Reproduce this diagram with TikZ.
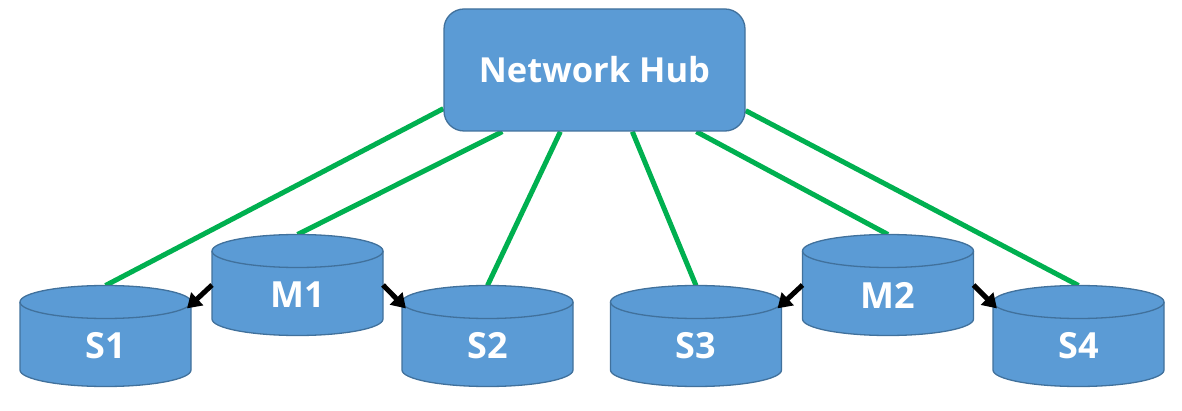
\documentclass[tikz,border=0pt]{standalone}
\usepackage{fontspec}
\setmainfont{Open Sans}
\usetikzlibrary{calc,arrows.meta,backgrounds}
\definecolor{boxfill}{HTML}{5B9BD5}
\definecolor{boxline}{HTML}{41719C}
\definecolor{link}{HTML}{00B050}
\tikzset{
  hubbox/.style={draw=boxline, line width=1.3pt, fill=boxfill, rounded corners=20pt,
    minimum width=301pt, minimum height=122pt, text=white, font=\fontsize{34.5}{38}\selectfont\bfseries},
  cyllabel/.style={text=white, font=\fontsize{36}{40}\selectfont\bfseries, inner sep=0pt},
  cylbody/.style={draw=boxline, line width=1.3pt, fill=boxfill},
  greenlink/.style={draw=link, line width=5pt},
  repl/.style={draw=black, line width=5pt, -{Triangle[length=14pt,width=17pt]}, shorten >=-2pt}
}
% #1 name, #2 cx, #3 top ellipse centre y (pixel coordinates, y downward)
\newcommand\dbcyl[3]{%
  \path[cylbody] (#2-85.5,#3) -- (#2-85.5,#3+68) arc (180:360:85.5pt and 16.5pt)
     -- (#2+85.5,#3) arc (0:180:85.5pt and 16.5pt) -- cycle;
  \draw[boxline, line width=1.3pt] (#2-85.5,#3) arc (180:360:85.5pt and 16.5pt);
  \node[cyllabel] (#1) at (#2,#3+44) {#1};
  \coordinate (#1-top) at (#2,#3-16.5);
  \coordinate (#1-lo) at (#2-85.5,#3+34);
  \coordinate (#1-ro) at (#2+85.5,#3+34);
  \coordinate (#1-li) at (#2-83,#3+5);
  \coordinate (#1-ri) at (#2+83,#3+5);
}
\begin{document}
\begin{tikzpicture}[x=1pt,y=-1pt]
\useasboundingbox (0,0) rectangle (1182,411);
\node[hubbox] (hub) at (594.5,70) {Network Hub};
\dbcyl{S1}{105.5}{302}
\dbcyl{M1}{297.5}{251}
\dbcyl{S2}{487.5}{302}
\dbcyl{S3}{696}{302}
\dbcyl{M2}{888}{251}
\dbcyl{S4}{1078.5}{302}
\begin{scope}[on background layer]
  \draw[greenlink] ($(hub.south west)+(0,-23)$) -- (S1-top);
  \draw[greenlink] ($(hub.south west)+(59,0)$) -- (M1-top);
  \draw[greenlink] ($(hub.south west)+(117,0)$) -- (S2-top);
  \draw[greenlink] ($(hub.south west)+(189,0)$) -- (S3-top);
  \draw[greenlink] ($(hub.south west)+(253,0)$) -- (M2-top);
  \draw[greenlink] ($(hub.south east)+(0,-21)$) -- (S4-top);
\end{scope}
\draw[repl] (M1-lo) -- (S1-ri);
\draw[repl] (M1-ro) -- (S2-li);
\draw[repl] (M2-lo) -- (S3-ri);
\draw[repl] (M2-ro) -- (S4-li);
\end{tikzpicture}
\end{document}
